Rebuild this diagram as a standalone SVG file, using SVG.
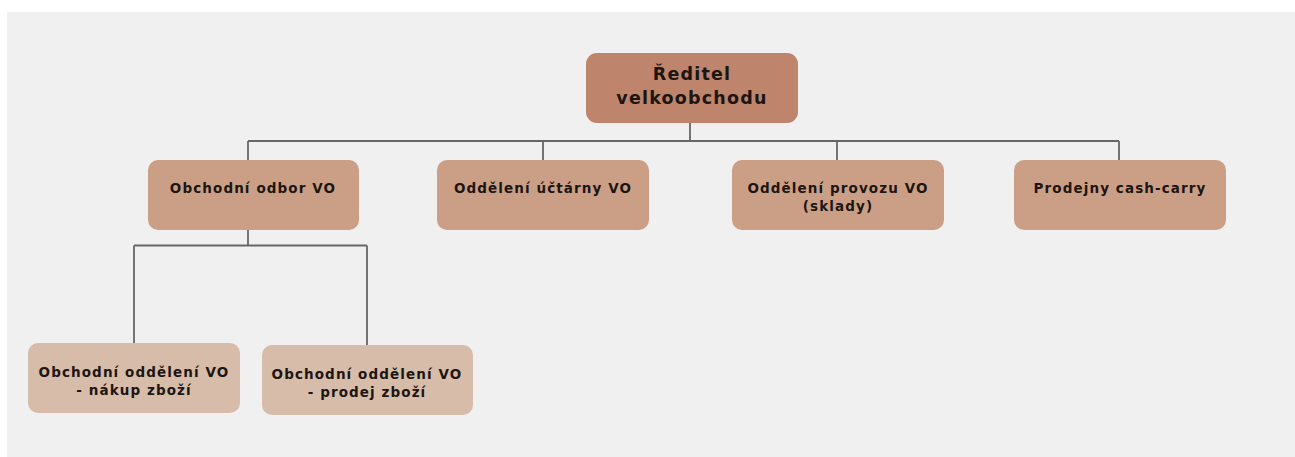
<svg xmlns="http://www.w3.org/2000/svg" width="1295" height="457" viewBox="0 0 1295 457">
<style>
.bg{fill:#f0f0f0}
.n1{fill:#bf846c}
.n2{fill:#cb9f86}
.n3{fill:#d6bca9}
.t{font-family:"DejaVu Sans",Inter,sans-serif;font-weight:700;fill:#1c1512;text-anchor:middle}
.t1{font-size:17.5px;letter-spacing:1.2px}
.t2{font-size:13.5px;letter-spacing:1.1px}
.c{stroke:#666;stroke-width:1.8;fill:none}
</style>
<rect width="1295" height="457" fill="#ffffff"/>
<rect class="bg" x="7" y="12" width="1288" height="445"/>
<g id="connectors">
<path class="c" d="M690 123V141M248 141H1119M248 141V160M543 141V160M837 141V160M1119 141V160"/>
<path class="c" d="M248 230V245.5M134 245.5H367M134 245.5V343M367 245.5V345"/>
</g>
<g id="root">
<rect class="n1" x="586" y="53" width="212" height="70" rx="11"/>
<text class="t t1" x="692" y="80">Ředitel</text>
<text class="t t1" x="692" y="104">velkoobchodu</text>
</g>
<g id="obchodni-odbor">
<rect class="n2" x="148" y="160" width="211" height="70" rx="10"/>
<text class="t t2" x="253" y="193">Obchodní odbor VO</text>
</g>
<g id="uctarna">
<rect class="n2" x="437" y="160" width="212" height="70" rx="10"/>
<text class="t t2" x="543" y="193">Oddělení účtárny VO</text>
</g>
<g id="provoz">
<rect class="n2" x="732" y="160" width="212" height="70" rx="10"/>
<text class="t t2" x="838" y="193">Oddělení provozu VO</text>
<text class="t t2" x="838" y="211">(sklady)</text>
</g>
<g id="cash-carry">
<rect class="n2" x="1014" y="160" width="212" height="70" rx="10"/>
<text class="t t2" x="1120" y="193">Prodejny cash-carry</text>
</g>
<g id="nakup">
<rect class="n3" x="28" y="343" width="212" height="70" rx="10"/>
<text class="t t2" x="134" y="377">Obchodní oddělení VO</text>
<text class="t t2" x="134" y="395">- nákup zboží</text>
</g>
<g id="prodej">
<rect class="n3" x="262" y="345" width="211" height="70" rx="10"/>
<text class="t t2" x="367" y="379">Obchodní oddělení VO</text>
<text class="t t2" x="367" y="397">- prodej zboží</text>
</g>
</svg>
